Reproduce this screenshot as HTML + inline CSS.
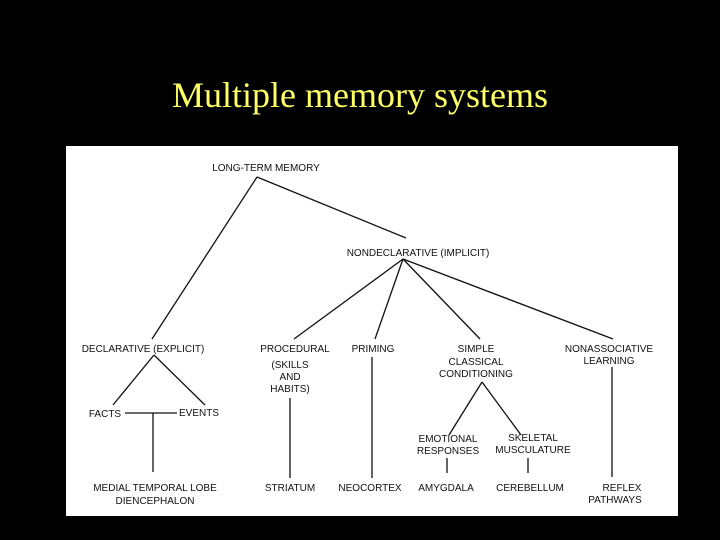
<!DOCTYPE html>
<html><head><style>
html,body{margin:0;padding:0;background:#000;width:720px;height:540px;overflow:hidden}
.t{position:absolute;left:0;width:720px;top:74px;text-align:center;color:#ffff66;font-family:"Liberation Serif",serif;font-size:36px}
svg{position:absolute;left:0;top:0}
text{font-family:"Liberation Sans",sans-serif;font-size:10px;fill:#111;text-anchor:middle}
</style></head><body>
<div class="t">Multiple memory systems</div>
<svg width="720" height="540">
<rect x="66" y="146" width="612" height="370" fill="#fff"/>
<g stroke="#111" stroke-width="1.3" fill="none">
<line x1="257" y1="177" x2="152" y2="339"/>
<line x1="257" y1="177" x2="406" y2="238"/>
<line x1="403" y1="259" x2="294" y2="339"/>
<line x1="403" y1="259" x2="375" y2="339"/>
<line x1="403" y1="259" x2="480" y2="339"/>
<line x1="403" y1="259" x2="613" y2="339"/>
<line x1="154" y1="355" x2="113" y2="405"/>
<line x1="154" y1="355" x2="205" y2="405"/>
<line x1="125" y1="413" x2="177" y2="413"/>
<line x1="153" y1="413" x2="153" y2="472"/>
<line x1="290" y1="398" x2="290" y2="478"/>
<line x1="372" y1="357" x2="372" y2="478"/>
<line x1="482" y1="382" x2="449" y2="435"/>
<line x1="482" y1="382" x2="521" y2="435"/>
<line x1="447" y1="458" x2="447" y2="473"/>
<line x1="528" y1="458" x2="528" y2="473"/>
<line x1="612" y1="367" x2="612" y2="477"/>
</g>
<text x="266" y="171">LONG-TERM MEMORY</text>
<text x="418" y="256">NONDECLARATIVE (IMPLICIT)</text>
<text x="143" y="352">DECLARATIVE (EXPLICIT)</text>
<text x="295" y="352">PROCEDURAL</text>
<text x="290" y="368">(SKILLS</text>
<text x="290" y="380">AND</text>
<text x="290" y="392">HABITS)</text>
<text x="373" y="352">PRIMING</text>
<text x="476" y="352">SIMPLE</text>
<text x="476" y="365">CLASSICAL</text>
<text x="476" y="377">CONDITIONING</text>
<text x="609" y="352">NONASSOCIATIVE</text>
<text x="609" y="364">LEARNING</text>
<text x="105" y="417">FACTS</text>
<text x="199" y="416">EVENTS</text>
<text x="448" y="442">EMOTIONAL</text>
<text x="448" y="454">RESPONSES</text>
<text x="533" y="441">SKELETAL</text>
<text x="533" y="453">MUSCULATURE</text>
<text x="155" y="491">MEDIAL TEMPORAL LOBE</text>
<text x="155" y="504">DIENCEPHALON</text>
<text x="290" y="491">STRIATUM</text>
<text x="370" y="491">NEOCORTEX</text>
<text x="446" y="491">AMYGDALA</text>
<text x="530" y="491">CEREBELLUM</text>
<text x="622" y="491">REFLEX</text>
<text x="615" y="503">PATHWAYS</text>
</svg>
</body></html>
